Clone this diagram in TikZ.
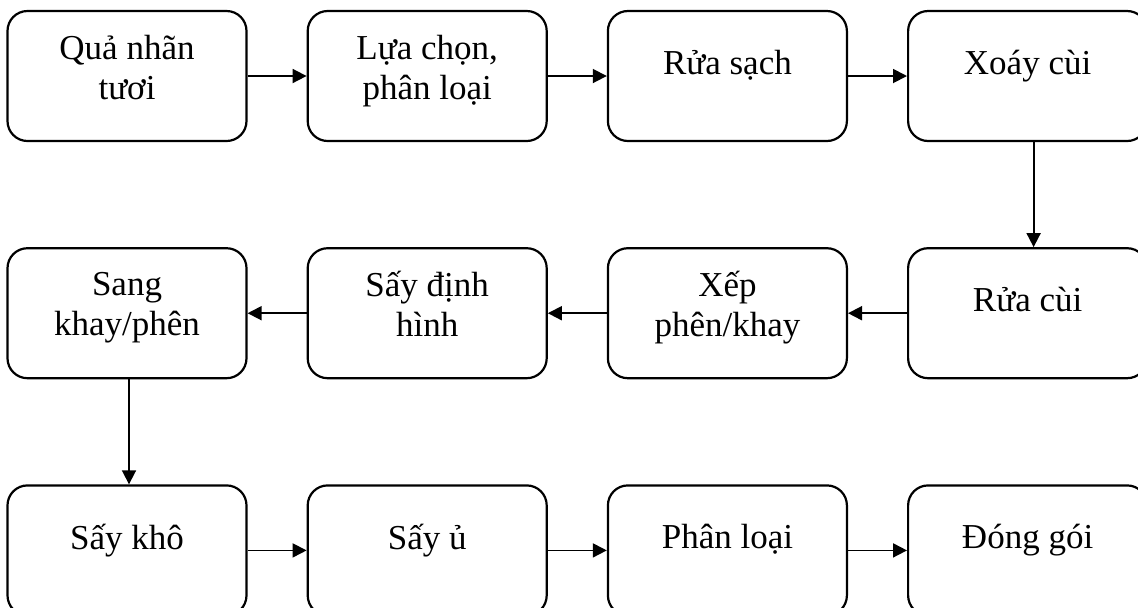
\documentclass[tikz,border=0pt]{standalone}
\usepackage{fontspec}
\setmainfont{Liberation Serif}
\usetikzlibrary{positioning,arrows.meta}
\tikzset{
    stepbox/.style={rectangle,draw=black,line width=1.1pt,rounded corners=10pt,
        minimum width=119.5pt,minimum height=65pt,inner sep=0,align=center,
        font=\fontsize{17.5}{20}\selectfont,text depth=14pt},
    twoline/.style={text depth=9pt},
    flow/.style={-{Triangle[length=7pt,width=7pt]},line width=0.9pt}
}
\begin{document}
\begin{tikzpicture}[node distance=52.5pt and 29.5pt]
    \useasboundingbox (0,0) rectangle (569pt,-303.5pt);
    \node[stepbox,twoline] (quanhan) at (63.5pt,-38pt) {Quả nhãn\\tươi};
    \node[stepbox,twoline,right=of quanhan] (luachon) {Lựa chọn,\\phân loại};
    \node[stepbox,right=of luachon] (ruasach) {Rửa sạch};
    \node[stepbox,right=of ruasach] (xoaycui) {Xoáy cùi};
    \node[stepbox,below=of xoaycui] (ruacui) {Rửa cùi};
    \node[stepbox,twoline,left=of ruacui] (xepphen) {Xếp\\phên/khay};
    \node[stepbox,twoline,left=of xepphen] (saydinh) {Sấy định\\hình};
    \node[stepbox,twoline,left=of saydinh] (sangkhay) {Sang\\khay/phên};
    \node[stepbox,below=of sangkhay] (saykho) {Sấy khô};
    \node[stepbox,right=of saykho] (sayu) {Sấy ủ};
    \node[stepbox,right=of sayu] (phanloai) {Phân loại};
    \node[stepbox,right=of phanloai] (donggoi) {Đóng gói};
    \foreach \from/\to in {quanhan/luachon,luachon/ruasach,ruasach/xoaycui,
        ruacui/xepphen,xepphen/saydinh,saydinh/sangkhay,
        saykho/sayu,sayu/phanloai,phanloai/donggoi}
        \draw[flow] (\from) -- (\to);
    \draw[flow] ([xshift=3pt]xoaycui.south) -- ([xshift=3pt]ruacui.north);
    \draw[flow] ([xshift=1pt]sangkhay.south) -- ([xshift=1pt]saykho.north);
\end{tikzpicture}
\end{document}
